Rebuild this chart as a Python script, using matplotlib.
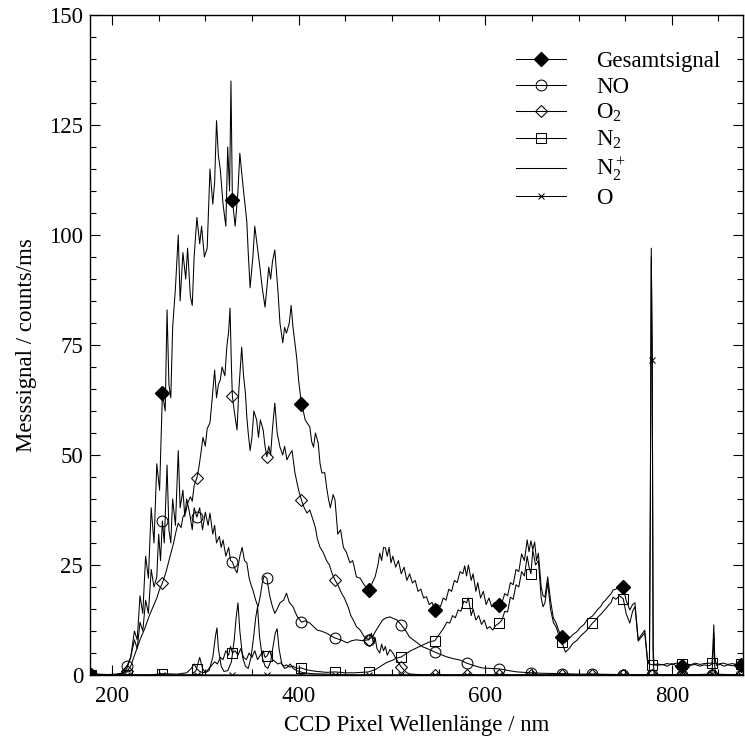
#!/usr/bin/env python3
"""Emissionsspektrum: Gesamtsignal und Anteile NO, O2, N2, N2+, O ueber der CCD-Wellenlaenge."""
import matplotlib
matplotlib.use("Agg")
import matplotlib.pyplot as plt
from matplotlib.ticker import MultipleLocator

plt.rcParams["font.family"] = ["Liberation Serif", "DejaVu Serif"]
plt.rcParams["mathtext.fontset"] = "custom"
plt.rcParams["mathtext.rm"] = "Liberation Serif"
plt.rcParams["mathtext.it"] = "Liberation Serif:italic"

# pixel positions that carry a symbol (every n-th CCD pixel)
MARK_NM = [178, 216, 254, 291, 329, 366, 403, 439, 475, 510, 546, 580, 615,
           649, 682, 715, 748, 779, 811, 843, 874]

G_NM = [176, 178, 185, 195, 205, 212, 216, 220, 224, 227, 230, 233, 236, 239, 242, 245,
        248, 251, 254, 257, 259, 261, 263, 265, 268, 271, 273, 276, 279, 281, 284, 286,
        288, 291, 294, 296, 299, 302, 305, 308, 310, 312, 314, 316, 319, 322, 324, 326,
        327.5, 329, 332, 335, 337, 340, 342, 344.5, 346, 348, 351, 353, 356, 358.5, 361, 364,
        366, 368, 370, 372, 374.5, 378, 380, 383, 385, 387, 390, 392, 394, 396, 398, 400,
        403, 405, 407, 410, 412, 414, 416, 418, 421, 423, 425, 428, 430, 432, 434, 437,
        439, 442, 445, 448, 451, 455, 458, 462, 466, 469, 472, 475, 478, 482, 485, 487,
        489, 491, 493, 495, 497, 499, 501, 504, 507, 510, 513, 516, 519, 522, 525, 528,
        531, 534, 537, 540, 543, 546, 549, 552, 555, 558, 561, 564, 567, 570, 573, 576,
        578, 580, 582, 585, 587, 590, 592, 595, 598, 601, 604, 607, 610, 612, 615, 618,
        621, 624, 627, 630, 633, 636, 639, 642, 645, 647, 649, 651, 653, 655, 657, 660,
        662, 664, 667, 670, 673, 676, 679, 682, 686, 690, 694, 698, 702, 706, 709, 712,
        715, 718, 721, 724, 726, 729, 732, 735, 737, 740, 744, 748, 751, 755, 758, 760.5,
        764, 767, 771, 774, 776, 777, 778, 779, 780, 781, 785, 790, 795, 800, 805, 811,
        815, 820, 825, 830, 835, 840, 843, 844, 845, 846, 848, 852, 856, 860, 865, 870,
        874, 876]
G_VAL = [1.0, 0.0, 0.2, 0.1, 0.2, 0.5, 1.5, 4, 10, 8, 18, 14, 27, 22, 38, 30,
         48, 42, 64, 60, 83, 66, 63, 79, 88, 100, 85, 96, 90, 97, 86, 84,
         95, 104, 98, 102, 95, 97, 115, 107, 112, 126, 118, 115, 107, 102, 120, 110,
         135, 108, 102, 110, 118.6, 112, 108, 103, 96, 88, 95, 102, 97, 92.7, 88, 83.6,
         88, 92.7, 90, 94, 96.6, 86.8, 80, 75.5, 79, 77.7, 80, 84, 79, 75.5, 72, 67,
         61.6, 60, 58, 57, 56.4, 53, 51.8, 55, 52.7, 48, 45.9, 46, 42.7, 40, 38, 41,
         39.8, 32, 33, 29, 28, 25.5, 26, 22.3, 22, 20.9, 20, 19.3, 20.5, 22.3, 25, 27.7,
         26, 29, 28.9, 27, 29, 25.5, 27, 24.5, 26, 23, 24.5, 21.5, 23, 20.9, 21.5, 19,
         19.5, 17.5, 17.8, 16, 16.5, 14.8, 16, 15.5, 17.5, 17, 19.5, 19, 21.5, 21, 23.5, 23,
         24.8, 22.5, 25, 21.5, 23, 19, 21, 17.5, 19, 16, 17.5, 15.5, 16.5, 15, 15.9, 16.5,
         18.5, 18, 21, 20.5, 24, 23.5, 27.5, 26, 30.7, 28, 30.5, 28.5, 30.2, 26, 27.7, 20,
         18, 17.7, 22.3, 17, 13, 11.8, 10, 8.6, 7.5, 8.3, 9.2, 9.8, 10.8, 11.5, 12.5, 13,
         13.4, 14.2, 15, 15.6, 16.4, 17, 17.8, 18.5, 19.3, 19.5, 20.2, 20, 17, 14.8, 16, 16.4,
         8, 9, 10.2, 3.4, 2.5, 40, 97, 72, 6, 2.3, 2.2, 2.4, 2.0, 2.6, 2.1, 2.0,
         2.5, 2.2, 2.4, 2.0, 2.3, 2.1, 2.5, 6, 11.4, 4, 2.2, 2.4, 2.0, 2.3, 2.1, 2.3,
         2.2, 2.0]

NO_NM = [176, 178, 200, 210, 216, 220, 224, 227, 230, 233, 236, 239, 242, 245, 248, 250,
         252, 254, 256, 259, 261, 263, 265, 268, 271, 273, 276, 278, 280, 283, 286, 288,
         291, 294, 297, 300, 303, 305, 308, 310, 312, 315, 317, 319, 322, 325, 327, 329,
         332, 334, 337, 339.5, 342, 344.5, 347, 349, 351, 354, 356.5, 359, 361, 363, 366, 369,
         372, 374.5, 377, 380, 384, 387, 390, 394, 398, 403, 407, 412, 416, 420, 424, 430,
         434, 439, 445, 452, 457, 462, 468, 475, 480, 484, 490, 494, 498, 502, 505.5, 510,
         515, 519, 526, 533, 540, 546, 553, 559, 566, 573, 580, 590, 597, 605, 615, 625,
         634, 649, 660, 682, 700, 715, 748, 779, 811, 843, 874, 876]
NO_VAL = [0, 0, 0, 0.3, 2, 4, 8, 6, 12, 10, 17, 14, 24, 20, 22.3, 32,
          26, 35, 30, 47.7, 33, 30, 40, 34, 51, 38, 42, 36, 40, 37, 33, 38,
          35.9, 38, 33, 37, 34, 36.8, 32, 34, 30, 31.5, 29, 30.7, 27, 29, 26, 25.7,
          24, 23.2, 27, 29, 26, 25.5, 22, 20.5, 19.3, 17, 15.5, 18, 20.9, 22.5, 22, 18,
          15.5, 14, 15, 16.4, 17, 18.6, 16.5, 15.5, 13.5, 12, 12.3, 11.8, 11, 10.2, 10, 9.5,
          9, 8.4, 8, 7.3, 7.8, 8, 7.8, 8, 9, 10.5, 12.5, 13, 13.2, 12.8, 12.5, 11.4,
          10, 8.6, 7.5, 6.4, 5.8, 5.2, 4.6, 4.1, 3.7, 3.4, 2.7, 2, 1.6, 1.5, 1.4, 1,
          0.7, 0.5, 0.4, 0.3, 0.2, 0.2, 0.1, 0, 0, 0, 0, 0]

O2_NM = [176, 178, 200, 210, 216, 220, 225, 230, 235, 240, 244, 248, 251, 254, 258, 262,
         266, 269, 271, 274, 276, 279, 281, 284, 286, 288, 291, 293, 295, 297.5, 300, 302,
         305, 307, 310, 312, 314, 316, 318, 321, 323, 325, 326.5, 328, 329, 331, 334, 336,
         339, 341, 343, 344.5, 346, 348, 350, 352, 355, 357, 359, 362, 364, 366, 368, 370,
         372, 374.5, 377, 380, 383, 385, 387.5, 390, 393, 396, 398, 400, 403, 406, 409, 412,
         415.5, 418, 420, 423, 426, 430, 433, 436, 439, 442, 446, 449, 453, 456, 458.5, 462,
         466, 470, 475, 478, 480, 482, 484, 487, 489, 491, 493, 495, 498, 501, 505, 510,
         516, 520, 530, 546, 580, 615, 649, 682, 715, 748, 779, 811, 843, 874, 876]
O2_VAL = [0, 0, 0, 0.2, 0.8, 2, 5, 8, 10.5, 13.5, 15.5, 17.5, 19.5, 20.9, 23.5, 26.8,
          30, 33, 34.5, 33.5, 35.9, 37, 39, 40.5, 39.5, 43, 44.8, 47, 50, 54, 52, 56,
          57.3, 62, 69.3, 63, 66, 67, 70, 68, 74.5, 78, 83.4, 70, 63.4, 60, 55.7, 65,
          74.5, 68, 64, 58.6, 55, 51, 54, 60, 58, 54, 58, 55.7, 52, 49.6, 52, 50,
          56, 61.8, 55, 51.8, 50, 52, 48.9, 50, 51, 46, 44, 42, 39.8, 38, 36.8, 37.5,
          35.2, 33.5, 31, 29, 28, 26, 25, 23, 21.6, 20.5, 18.6, 17.5, 15.5, 13.5, 12.5, 11,
          10.2, 8.8, 8, 9.5, 7.3, 8.5, 6, 5, 7, 5.5, 6.5, 4.5, 5.8, 5, 3.5, 1.8,
          0.5, 0.2, 0.1, 0, 0, 0, 0, 0, 0, 0, 0, 0, 0, 0, 0]

N2_NM = [176, 178, 200, 216, 240, 254, 270, 280, 285, 288, 291, 294, 298, 302, 306, 310,
         313, 316, 319, 322, 325, 327, 329, 332, 335, 338, 341, 344, 347, 350, 353, 356,
         359, 362, 364, 366, 369, 372, 375, 378, 381, 384, 387, 390, 394, 398, 403, 408,
         413, 420, 430, 439, 450, 460, 468, 475, 482, 488, 494, 500, 505, 510, 515, 520,
         525, 530, 535, 540, 546, 550, 555, 559, 562, 565, 568, 571, 574, 577, 580, 582,
         585, 587, 590, 593, 596, 599, 602, 605, 608, 611, 615, 618, 621, 624, 627, 630,
         633, 636, 639, 642, 645, 647, 649, 651, 654, 657, 660, 662, 664, 667, 670, 673,
         676, 679, 682, 686, 690, 694, 698, 702, 706, 709, 712, 715, 718, 721, 724, 726,
         729, 732, 735, 737, 740, 744, 748, 751, 755, 758, 760.5, 764, 767, 771, 774, 776,
         779, 785, 790, 795, 800, 805, 811, 815, 820, 825, 830, 835, 843, 850, 855, 860,
         865, 870, 874, 876]
N2_VAL = [0, 0, 0, 0, 0, 0.3, 0.2, 0.5, 1.5, 2.5, 1.4, 0.8, 0.5, 1, 2, 3,
          2.5, 4, 3.5, 5.5, 4.5, 6.5, 5, 5.5, 4.5, 6, 4, 3.5, 5, 4, 5.5, 3.5,
          4.5, 5.5, 4, 4.3, 5.5, 3.5, 3, 2.5, 2.8, 2, 2.3, 1.8, 2, 1.5, 1.6, 1.2,
          1, 0.8, 0.6, 0.7, 0.5, 0.5, 0.6, 0.7, 1.2, 2, 2.8, 3.3, 3.8, 4.1, 4.8, 5.5,
          6, 6.5, 7, 7.5, 7.8, 9, 10.5, 12, 11.8, 13.5, 13, 14.8, 14.5, 16.8, 16.4, 17.5,
          13.5, 15, 12.5, 13.5, 11.5, 12.5, 10.5, 11, 10.2, 11.2, 11.8, 12.5, 14.5, 14.3, 17.7, 17.2,
          20.5, 20, 23.5, 22.5, 27, 24.5, 23, 28.4, 25, 26, 17.5, 15.5, 16.4, 21, 15, 12,
          10.9, 9, 7.5, 5.2, 6, 7.2, 7.8, 8.8, 9.6, 10.2, 11, 11.8, 12.4, 13.2, 13.8, 14.3,
          15, 15.8, 16.5, 17.7, 17.2, 18, 17.3, 14, 11.8, 14.5, 15.5, 7.7, 8.5, 9.6, 3, 2.5,
          2.3, 2.5, 2.3, 2.6, 2.4, 2.7, 2.4, 2.6, 2.3, 2.7, 2.4, 2.6, 2.7, 2.5, 2.7, 2.4,
          2.6, 2.3, 2.5, 2.4]

N2P_NM = [176, 250, 285, 290, 294, 297, 300, 304, 308, 311, 312.5, 314, 317, 320, 324, 328,
          331, 333, 335, 337, 340, 343, 346, 349, 352, 354, 356, 358, 361, 364, 367, 370,
          373, 375, 377, 379, 382, 385, 388, 391, 394, 398, 405, 415, 430, 460, 876]
N2P_VAL = [0, 0, 0, 1, 4, 1.5, 0.5, 1, 4, 9, 10.7, 6, 2, 0.8, 1, 3,
           8, 13, 16.4, 10, 4, 2, 1.5, 4, 9, 13, 15.5, 9, 4, 2, 1.5, 3,
           7, 9.5, 10.5, 6, 2.5, 1.5, 1.8, 2.5, 1.5, 1, 0.5, 0.3, 0.2, 0, 0]

O_NM = [176, 178, 216, 254, 291, 329, 366, 403, 439, 475, 510, 546, 580, 615, 649, 682,
        715, 748, 775, 776, 777, 778, 779, 780, 781, 790, 811, 843, 844, 845, 846, 847,
        874, 876]
O_VAL = [0, 0, 0, 0, 0, 0, 0, 0, 0, 0, 0, 0, 0, 0, 0, 0,
         0, 0, 0, 0.5, 38, 95, 71.5, 4, 0.3, 0, 0, 0.2, 4, 9.5, 2, 0.2,
         0, 0]

X_TICKS = [200, 400, 600, 800]
Y_TICKS = [0, 25, 50, 75, 100, 125, 150]


def mark_idx(xs, marks):
    marks = set(marks)
    return [i for i, x in enumerate(xs) if x in marks]


fig = plt.figure(figsize=(7.45, 7.47), dpi=100)
ax = fig.add_axes([0.1208, 0.0964, 0.8765, 0.8835])

lw = 0.75
mew = 0.75
ax.plot(G_NM, G_VAL, color="black", lw=lw, marker="D", ms=7.6, mfc="black", mec="black",
        markevery=mark_idx(G_NM, MARK_NM[::2]), label="Gesamtsignal")
ax.plot(NO_NM, NO_VAL, color="black", lw=lw, marker="o", ms=7.8, mfc="none", mec="black",
        mew=mew, markevery=mark_idx(NO_NM, MARK_NM), label="NO")
ax.plot(O2_NM, O2_VAL, color="black", lw=lw, marker="D", ms=6.2, mfc="none", mec="black",
        mew=mew, markevery=mark_idx(O2_NM, MARK_NM), label="O$_2$")
ax.plot(N2_NM, N2_VAL, color="black", lw=lw, marker="s", ms=7.2, mfc="none", mec="black",
        mew=mew, markevery=mark_idx(N2_NM, MARK_NM), label="N$_2$")
ax.plot(N2P_NM, N2P_VAL, color="black", lw=lw, label="N$_2^+$")
ax.plot(O_NM, O_VAL, color="black", lw=lw, marker="x", ms=4.0, mec="black", mew=mew,
        markevery=mark_idx(O_NM, MARK_NM), label="O")

ax.set_xlim(176.4, 876.3)
ax.set_ylim(0, 150)
ax.set_xticks(X_TICKS)
ax.set_yticks(Y_TICKS)
ax.xaxis.set_minor_locator(MultipleLocator(50))
ax.yaxis.set_minor_locator(MultipleLocator(5))
ax.tick_params(which="both", direction="in", top=True, right=True, labelsize=16.5, width=0.8)
ax.tick_params(which="major", length=7.2)
ax.tick_params(which="minor", length=4.3)
ax.tick_params(axis="x", pad=8)
ax.tick_params(axis="y", pad=5)
for s in ax.spines.values():
    s.set_linewidth(1.0)

ax.set_xlabel("CCD Pixel Wellenlänge / nm", fontsize=16.5, labelpad=6)
ax.set_ylabel("Messsignal / counts/ms", fontsize=16.5, labelpad=9)

ax.legend(loc="upper right", bbox_to_anchor=(0.99, 0.97), frameon=False, fontsize=16.5,
          numpoints=1, handlelength=2.2, handletextpad=1.3, labelspacing=0.2,
          borderaxespad=0.3)

fig.savefig("out.png", dpi=100)
